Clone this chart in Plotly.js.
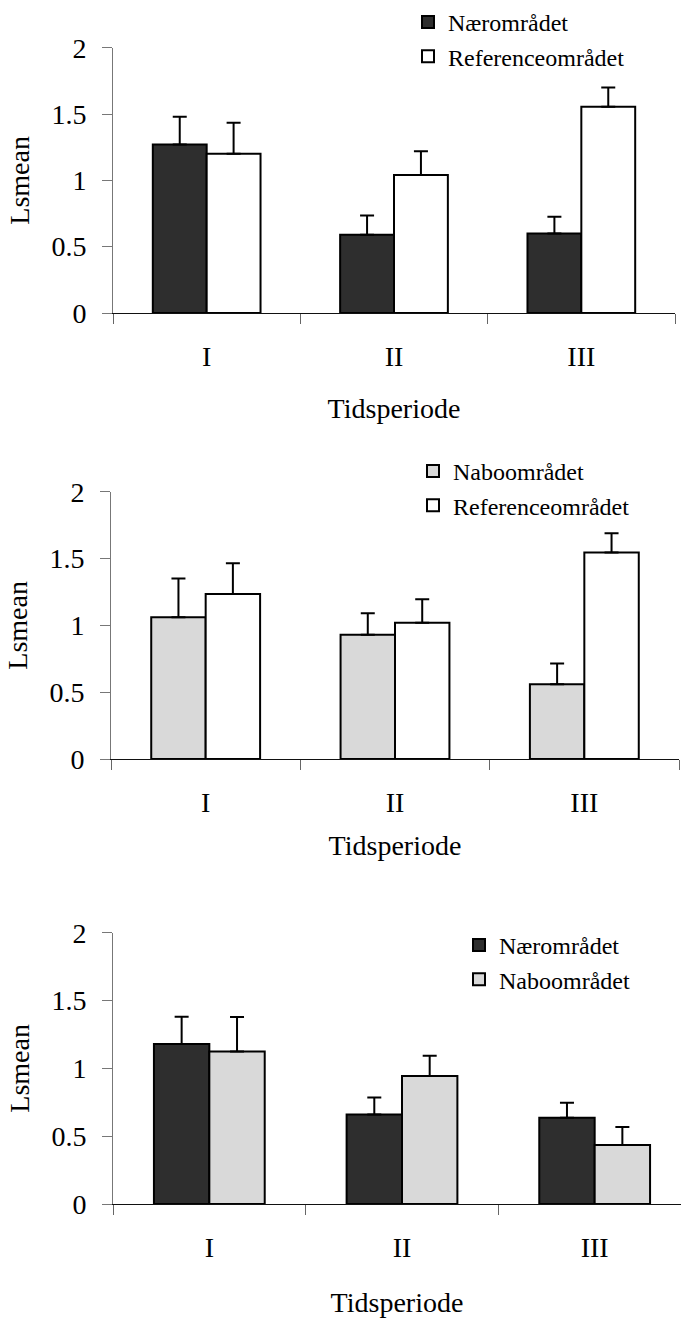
<!DOCTYPE html>
<html>
<head>
<meta charset="utf-8">
<script src="https://cdn.plot.ly/plotly-3.0.1.min.js"></script>
<style>html,body{margin:0;padding:0;background:#fff;overflow:hidden}</style>
</head>
<body>
<div id="chart" style="width:681px;height:1319px"></div>
<script>
// Categories (time periods)
const periods = ["I", "II", "III"];

// Panel 1: Nærområdet vs Referenceområdet
const naer1 = [1.27, 0.59, 0.60];
const naer1Err = [0.21, 0.145, 0.125];
const ref1 = [1.20, 1.04, 1.555];
const ref1Err = [0.235, 0.18, 0.145];

// Panel 2: Naboområdet vs Referenceområdet
const nabo2 = [1.06, 0.93, 0.56];
const nabo2Err = [0.29, 0.16, 0.155];
const ref2 = [1.235, 1.02, 1.545];
const ref2Err = [0.23, 0.175, 0.145];

// Panel 3: Nærområdet vs Naboområdet
const naer3 = [1.18, 0.66, 0.636];
const naer3Err = [0.20, 0.125, 0.11];
const nabo3 = [1.124, 0.943, 0.435];
const nabo3Err = [0.255, 0.15, 0.133];

const yTicks = [0, 0.5, 1, 1.5, 2];
const yTickText = ["0", "0.5", "1", "1.5", "2"];

const NAME_NAER = "Nærområdet";
const NAME_NABO = "Naboområdet";
const NAME_REF = "Referenceområdet";

const COL_DARK = "#2e2e2e";
const COL_LIGHT = "#d9d9d9";
const COL_WHITE = "#ffffff";

function bar(name, y, err, color, xa, ya, legend, group) {
  return {
    type: "bar", name: name, x: periods, y: y,
    xaxis: xa, yaxis: ya, legend: legend, legendgroup: group,
    marker: {color: color, line: {color: "#000", width: 2}},
    error_y: {type: "data", array: err, arrayminus: err.map(() => 0), symmetric: false,
              color: "#000", thickness: 2, width: 7},
    hoverinfo: "x+y+name"
  };
}

const data = [
  bar(NAME_NAER, naer1, naer1Err, COL_DARK, "x", "y", "legend", "a1"),
  bar(NAME_REF, ref1, ref1Err, COL_WHITE, "x", "y", "legend", "b1"),
  bar(NAME_NABO, nabo2, nabo2Err, COL_LIGHT, "x2", "y2", "legend2", "a2"),
  bar(NAME_REF, ref2, ref2Err, COL_WHITE, "x2", "y2", "legend2", "b2"),
  bar(NAME_NAER, naer3, naer3Err, COL_DARK, "x3", "y3", "legend3", "a3"),
  bar(NAME_NABO, nabo3, nabo3Err, COL_LIGHT, "x3", "y3", "legend3", "b3")
];

const FONT = "Liberation Serif, Times New Roman, serif";
const H = 1319, W = 681;

function xax(domain, range, anchor, standoff) {
  return {
    domain: domain, anchor: anchor, type: "category", range: range,
    showline: true, linecolor: "#111", linewidth: 1,
    ticks: "outside", tickson: "boundaries", ticklen: 10, tickcolor: "#666", tickwidth: 1,
    showgrid: false, zeroline: false, fixedrange: true,
    tickfont: {family: FONT, size: 28, color: "#000"}, ticklabelstandoff: 18,
    title: {text: "Tidsperiode", font: {family: FONT, size: 28, color: "#000"}, standoff: standoff}
  };
}
function yax(domain, anchor) {
  return {
    domain: domain, anchor: anchor, range: [0, 2],
    tickvals: yTicks, ticktext: yTickText,
    showline: true, linecolor: "#777", linewidth: 1,
    ticks: "outside", ticklen: 10, tickcolor: "#777", tickwidth: 1,
    showgrid: false, zeroline: false, fixedrange: true,
    tickfont: {family: FONT, size: 28, color: "#000"}, ticklabelstandoff: 10,
    title: {text: "Lsmean", font: {family: FONT, size: 28, color: "#000"}, standoff: 13}
  };
}
function leg(xpx, ypx) {
  return {
    x: xpx / W, y: 1 - ypx / H, xanchor: "left", yanchor: "top",
    font: {family: FONT, size: 24, color: "#000"},
    bgcolor: "rgba(0,0,0,0)", borderwidth: 0,
    traceorder: "normal", tracegroupgap: 7, itemwidth: 30
  };
}

const layout = {
  width: W, height: H, autosize: false,
  margin: {l: 0, r: 0, t: 0, b: 0},
  paper_bgcolor: "#fff", plot_bgcolor: "#fff",
  font: {family: FONT, color: "#000"},
  barmode: "group", bargap: 0.425, bargroupgap: 0,
  showlegend: true,
  xaxis: xax([113 / W, 675 / W], [-0.5, 2.5], "y", 27),
  yaxis: yax([1 - 313 / H, 1 - 47.7 / H], "x"),
  xaxis2: xax([111 / W, 679 / W], [-0.5, 2.5], "y2", 18),
  yaxis2: yax([1 - 759 / H, 1 - 491.7 / H], "x2"),
  xaxis3: xax([113 / W, 1], [-0.5, 2.5 - 10 / 192.7], "y3", 30),
  yaxis3: yax([1 - 1204 / H, 1 - 932.7 / H], "x3"),
  legend: leg(408, 0),
  legend2: leg(413, 449),
  legend3: leg(459, 923)
};

Plotly.newPlot("chart", data, layout, {displayModeBar: false, staticPlot: true});
</script>
</body>
</html>
